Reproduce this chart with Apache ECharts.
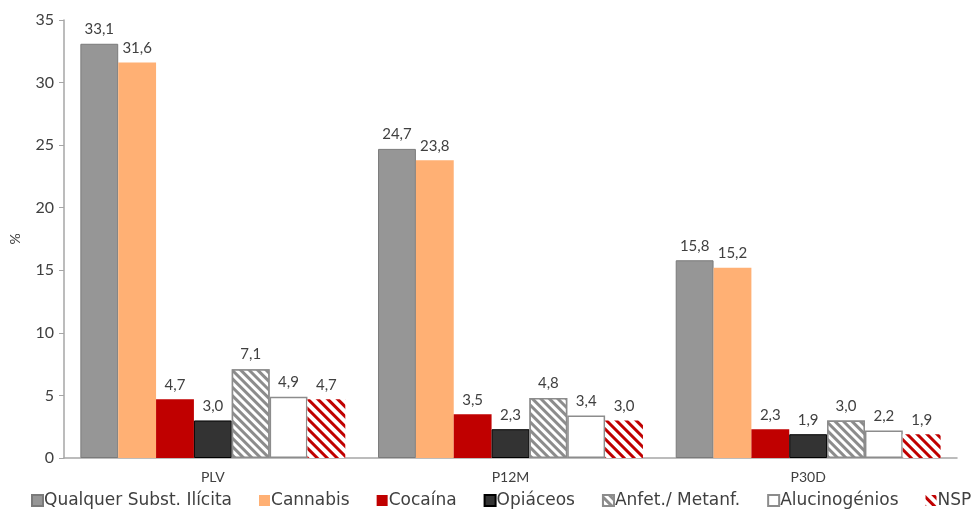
<!DOCTYPE html>
<html>
<head>
<meta charset="utf-8">
<script src="https://cdn.jsdelivr.net/npm/echarts@6/dist/echarts.min.js"></script>
<style>
  html, body { margin: 0; padding: 0; background: #fff; }
  #chart { width: 971px; height: 512px; }
</style>
</head>
<body>
<div id="chart"></div>
<script>
// Prevalence periods shown on the x axis
const periods = ['PLV', 'P12M', 'P30D'];

// Substance groups (legend order)
const substances = ['Qualquer Subst. Ilícita', 'Cannabis', 'Cocaína', 'Opiáceos', 'Anfet./ Metanf.', 'Alucinogénios', 'NSP'];

// Values (%) per substance, one entry per period
const qualquer      = [33.1, 24.7, 15.8];
const cannabis      = [31.6, 23.8, 15.2];
const cocaina       = [4.7, 3.5, 2.3];
const opiaceos      = [3.0, 2.3, 1.9];
const anfetaminas   = [7.1, 4.8, 3.0];
const alucinogenios = [4.9, 3.4, 2.2];
const nsp           = [4.7, 3.0, 1.9];

const yTicks = { min: 0, max: 35, interval: 5 };

const values = [qualquer, cannabis, cocaina, opiaceos, anfetaminas, alucinogenios, nsp];

const textColor = '#404040';
const font = 'Lato, "Noto Sans", sans-serif';
const legendFont = '"DejaVu Sans", sans-serif';

const styles = [
  { color: '#969696', borderColor: '#7a7a7a', borderWidth: 1 },
  { color: '#FFB074', borderColor: '#FFB074', borderWidth: 0 },
  { color: '#C00000', borderColor: '#C00000', borderWidth: 0 },
  { color: '#333333', borderColor: '#000000', borderWidth: 1 },
  { color: '#ffffff', borderColor: '#8c8c8c', borderWidth: 1.5,
    decal: { symbol: 'rect', symbolSize: 1, color: '#8c8c8c', backgroundColor: '#ffffff',
             dashArrayX: [1, 0], dashArrayY: [2.5, 2.7], rotation: Math.PI / 4 } },
  { color: '#ffffff', borderColor: '#8c8c8c', borderWidth: 1.5 },
  { color: '#ffffff', borderWidth: 0,
    decal: { symbol: 'rect', symbolSize: 1, color: '#C00000', backgroundColor: '#ffffff',
             dashArrayX: [1, 0], dashArrayY: [3, 3.5], rotation: Math.PI / 4 } }
];

const series = substances.map((name, i) => ({
  name: name,
  type: 'bar',
  data: values[i],
  barGap: '0%',
  barCategoryGap: '11%',
  itemStyle: styles[i],
  label: {
    show: true,
    position: 'top',
    distance: 7,
    color: textColor,
    fontFamily: font,
    fontSize: 15,
    formatter: p => p.value.toFixed(1).replace('.', ',')
  }
}));

const chart = echarts.init(document.getElementById('chart'), null, { renderer: 'canvas' });
chart.setOption({
  animation: false,
  backgroundColor: '#ffffff',
  grid: { left: 62, right: 14, top: 20, bottom: 54, containLabel: false },
  legend: {
    top: 492,
    left: 31,
    width: 2000,
    padding: 0,
    icon: 'rect',
    itemWidth: 11,
    itemHeight: 11,
    itemGap: 27,
    textStyle: { color: textColor, fontFamily: legendFont, fontSize: 17, padding: [0, 0, 0, -4] },
    data: substances
  },
  xAxis: {
    type: 'category',
    data: periods,
    axisLine: { lineStyle: { color: '#a6a6a6', width: 1.5 } },
    axisTick: { show: false },
    axisLabel: { color: textColor, fontFamily: font, fontSize: 14, margin: 12 }
  },
  yAxis: {
    type: 'value',
    min: yTicks.min,
    max: yTicks.max,
    interval: yTicks.interval,
    name: '%',
    nameLocation: 'middle',
    nameGap: 42,
    nameRotate: 90,
    nameTextStyle: { color: textColor, fontFamily: font, fontSize: 14 },
    axisLine: { show: true, lineStyle: { color: '#a6a6a6', width: 1.5 } },
    axisTick: { show: true, length: 5, lineStyle: { color: '#a6a6a6' } },
    splitLine: { show: false },
    axisLabel: { color: textColor, fontFamily: font, fontSize: 16, margin: 10 }
  },
  series: series
});
</script>
</body>
</html>
